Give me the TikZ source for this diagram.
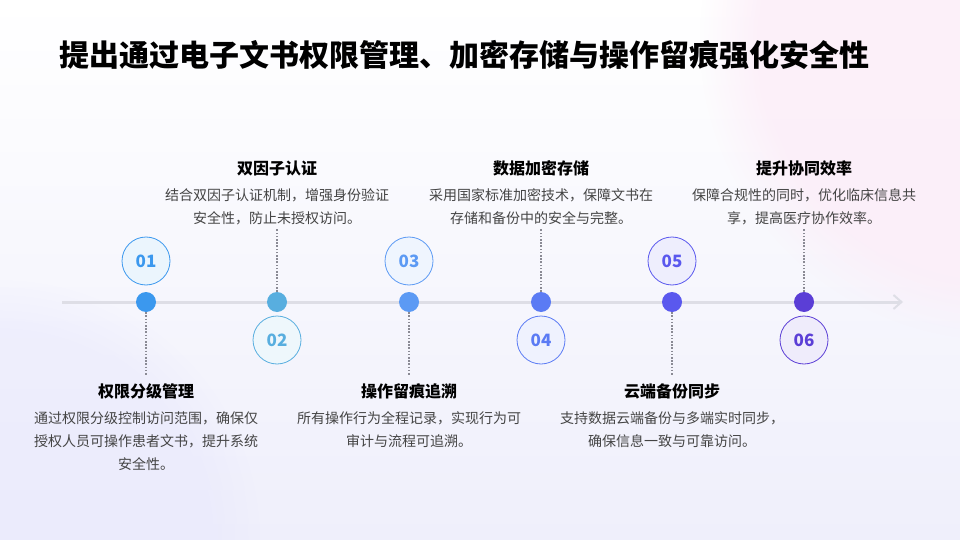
\documentclass[tikz,border=0pt]{standalone}
\usepackage{fontspec}
\setmainfont{Noto Sans CJK SC}
\usetikzlibrary{arrows.meta,fadings}
\definecolor{cA}{HTML}{3B98EE}
\definecolor{cB}{HTML}{58AEDF}
\definecolor{cC}{HTML}{5C9AF4}
\definecolor{cD}{HTML}{5B7BF4}
\definecolor{cE}{HTML}{5A58EE}
\definecolor{cF}{HTML}{5B3ED6}
\definecolor{txt}{HTML}{444444}
\definecolor{axis}{HTML}{DEDEE6}
\definecolor{bgbot}{HTML}{EFEFFB}
\definecolor{pinkish}{HTML}{FCEDF8}
\definecolor{linkc}{HTML}{8A8A94}
\tikzset{
  dotnode/.style={circle,fill=#1,minimum size=20pt,inner sep=0pt},
  numnode/.style={circle,draw=#1,line width=0.8pt,fill=#1!10!white,minimum size=48pt,inner sep=0pt,text=#1,font=\fontsize{17}{17}\selectfont\bfseries},
  headnode/.style={font=\fontsize{16}{16}\selectfont\bfseries,text=black,inner sep=0pt},
  descnode/.style={font=\fontsize{14}{23}\selectfont,text=txt,align=center,inner sep=0pt,anchor=north},
  link/.style={draw=linkc,line width=1.3pt,dash pattern=on 1.6pt off 1.6pt}
}
\begin{document}
\begin{tikzpicture}[x=1pt,y=-1pt]
\useasboundingbox (0,0) rectangle (960,540);
\shade[top color=white,bottom color=bgbot] (0,0) rectangle (960,540);
\fill[pinkish,opacity=0.8,path fading=circle with fuzzy edge 20 percent] (1000,40) circle (300);
\fill[bgbot!80!blue!40!white,opacity=0.4,path fading=circle with fuzzy edge 20 percent] (0,540) circle (260);
\node[anchor=west,inner sep=0pt,font=\fontsize{30}{30}\selectfont\bfseries] (title) at (59,55) {提出通过电子文书权限管理、加密存储与操作留痕强化安全性};
% axis
\coordinate (axs) at (62,302);
\coordinate (axe) at (903,302);
\draw[axis,line width=3pt,-{Straight Barb[length=8pt,width=14pt,line width=2pt]}] (axs) -- (axe);
% dots
\node[dotnode=cA] (d1) at (146,302) {};
\node[dotnode=cB] (d2) at (277,302) {};
\node[dotnode=cC] (d3) at (409,302) {};
\node[dotnode=cD] (d4) at (541,302) {};
\node[dotnode=cE] (d5) at (672,302) {};
\node[dotnode=cF] (d6) at (804,302) {};
% number circles
\node[numnode=cA] (n1) at (146,261) {01};
\node[numnode=cB] (n2) at (277,340) {02};
\node[numnode=cC] (n3) at (409,261) {03};
\node[numnode=cD] (n4) at (541,340) {04};
\node[numnode=cE] (n5) at (672,261) {05};
\node[numnode=cF] (n6) at (804,340) {06};
% headings
\node[headnode] (h1) at (146,391) {权限分级管理};
\node[headnode] (h2) at (277,168) {双因子认证};
\node[headnode] (h3) at (409,391) {操作留痕追溯};
\node[headnode] (h4) at (541,168) {数据加密存储};
\node[headnode] (h5) at (672,391) {云端备份同步};
\node[headnode] (h6) at (804,168) {提升协同效率};
% descriptions
\node[descnode] (t1) at (146,411) {通过权限分级控制访问范围，确保仅\\授权人员可操作患者文书，提升系统\\安全性。};
\node[descnode] (t2) at (277,188) {结合双因子认证机制，增强身份验证\\安全性，防止未授权访问。};
\node[descnode] (t3) at (409,411) {所有操作行为全程记录，实现行为可\\审计与流程可追溯。};
\node[descnode] (t4) at (541,188) {采用国家标准加密技术，保障文书在\\存储和备份中的安全与完整。};
\node[descnode] (t5) at (672,411) {支持数据云端备份与多端实时同步，\\确保信息一致与可靠访问。};
\node[descnode] (t6) at (804,188) {保障合规性的同时，优化临床信息共\\享，提高医疗协作效率。};
% dotted links
\coordinate (e1) at (146,376);
\coordinate (e3) at (409,376);
\coordinate (e5) at (672,376);
\coordinate (e2) at (277,228);
\coordinate (e4) at (541,228);
\coordinate (e6) at (804,228);
\draw[link] (d1) -- (e1);
\draw[link] (d3) -- (e3);
\draw[link] (d5) -- (e5);
\draw[link] (d2) -- (e2);
\draw[link] (d4) -- (e4);
\draw[link] (d6) -- (e6);
\end{tikzpicture}
\end{document}
